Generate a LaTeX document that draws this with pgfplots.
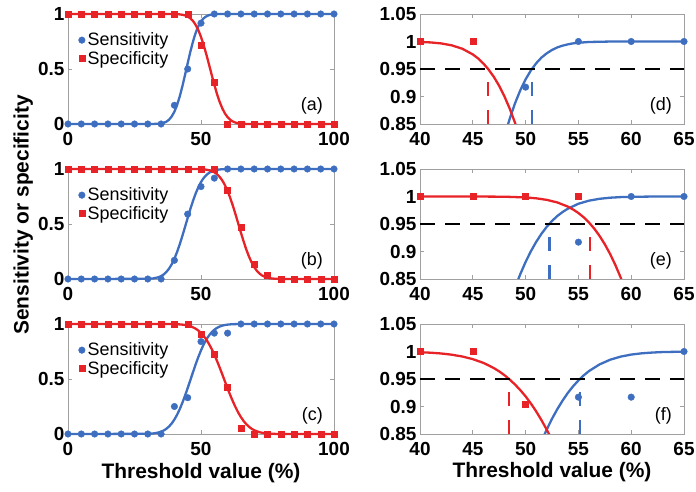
\documentclass[border=0pt]{standalone}
\usepackage{fontspec}
\setmainfont{Liberation Sans}
\usepackage{pgfplots}
\pgfplotsset{compat=1.18}
\usepackage{pgfplotstable}
\definecolor{sblue}{RGB}{61,110,191}
\definecolor{sred}{RGB}{232,35,40}
\definecolor{axgray}{RGB}{160,160,160}

\tikzset{plabel/.style={anchor=east, inner sep=0pt, font=\fontsize{18}{20}\selectfont}}

\pgfplotsset{
  panel/.style={
    scale only axis, height=110bp, anchor=south west,
    axis line style={axgray, line width=0.8bp},
    tick style={axgray, line width=0.8bp},
    major tick length=4bp,
    tick align=inside,
    tick label style={font=\fontsize{19}{20}\selectfont\bfseries, black},
    xticklabel style={yshift=-5bp},
    /pgf/number format/assume math mode=true,
    legend style={draw=none, fill=none, at={(rel axis cs:0.039,0.83)}, anchor=north west,
      inner sep=0pt, font=\fontsize{18}{20}\selectfont, row sep=4bp, column sep=2.5bp,
      nodes={inner sep=0pt}},
    legend cell align=left,
  },
  leftpanel/.style={panel, width=266bp, xmin=0, xmax=100, ymin=0, ymax=1,
    xtick={0,50,100}, xticklabels={0,50,100},
    ytick={0,0.5,1}, yticklabels={0,0.5,1}, clip=false},
  rightpanel/.style={panel, width=264bp, xmin=40, xmax=65, ymin=0.85, ymax=1.05,
    xtick={40,45,50,55,60,65}, xticklabels={40,45,50,55,60,65},
    ytick={0.85,0.9,0.95,1,1.05}, yticklabels={0.85,0.9,0.95,1,1.05}},
  sensmark/.style={only marks, mark=*, mark size=3.3bp, color=sblue, mark options={solid},
    legend image code/.code={\draw[##1] plot coordinates {(0bp,0bp)};}},
  specmark/.style={only marks, mark=square*, mark size=3bp, color=sred, mark options={solid},
    legend image code/.code={\draw[##1] plot coordinates {(0bp,0bp)};}},
  senscurve/.style={no markers, line width=2.3bp, color=sblue, forget plot},
  speccurve/.style={no markers, line width=2.3bp, color=sred, forget plot},
  hdash/.style={no markers, black, line width=2.5bp, dash pattern=on 15bp off 10bp, forget plot},
  vdashb/.style={no markers, sblue, line width=2.5bp, dash pattern=on 14bp off 14bp, forget plot},
  vdashr/.style={no markers, sred, line width=2.5bp, dash pattern=on 14bp off 14bp, forget plot},
}

% ---------- measured points ----------
\pgfplotstableread{
x sens spec
0 0 1
5 0 1
10 0 1
15 0 1
20 0 1
25 0 1
30 0 1
35 0 1
40 0.17 1
45 0.5 1
50 0.917 0.72
55 1 0.38
60 1 0
65 1 0
70 1 0
75 1 0
80 1 0
85 1 0
90 1 0
95 1 0
100 1 0
}\ptsA
\pgfplotstableread{
x sens spec
0 0 1
5 0 1
10 0 1
15 0 1
20 0 1
25 0 1
30 0 1
35 0 1
40 0.17 1
45 0.59 1
50 0.84 1
55 0.917 1
60 1 0.81
65 1 0.47
70 1 0.13
75 1 0.035
80 1 0
85 1 0
90 1 0
95 1 0
100 1 0
}\ptsB
\pgfplotstableread{
x sens spec
0 0 1
5 0 1
10 0 1
15 0 1
20 0 1
25 0 1
30 0 1
35 0 1
40 0.25 1
45 0.33 1
50 0.84 0.905
55 0.917 0.73
60 0.917 0.43
65 1 0.05
70 1 0
75 1 0
80 1 0
85 1 0
90 1 0
95 1 0
100 1 0
}\ptsC

% ---------- fitted curves ----------
\pgfplotstableread{
x y
0 0
30 0
32 0.0004
34 0.0023
35 0.0051
36 0.0107
37 0.0212
38 0.0396
39 0.0688
40 0.1122
41 0.1724
42 0.2498
43 0.3428
44 0.4464
45 0.5536
46 0.6572
47 0.7502
47.5 0.7912
48 0.8276
48.5 0.8599
49 0.8878
49.5 0.9114
50 0.9312
50.5 0.9474
51 0.9604
51.5 0.9707
52 0.9785
52.5 0.9846
53 0.9892
53.5 0.9924
54 0.9948
54.5 0.9966
55 0.9977
56 0.9991
58 0.9999
60 1
100 1
}\curveAsens
\pgfplotstableread{
x y
0 1
38 0.9999
40 0.9992
41 0.9983
42 0.9965
43 0.9930
44 0.9869
45 0.9765
45.5 0.9692
46 0.9600
46.5 0.9488
47 0.9354
47.5 0.9192
48 0.8999
48.5 0.8777
49 0.8521
49.5 0.8233
50 0.7914
51 0.7175
52 0.6333
53 0.5422
54 0.4487
55 0.3577
56 0.2743
57 0.2022
58 0.1424
59 0.0958
60 0.0619
61 0.0380
62 0.0222
63 0.0123
64 0.0065
65 0.0033
67 0.0007
70 0
100 0
}\curveAspec
\pgfplotstableread{
x y
0 0
30 0.0015
32 0.0052
34 0.0159
35 0.0265
36 0.0420
37 0.0642
38 0.0946
39 0.1345
40 0.1847
41 0.2452
42 0.3150
43 0.3921
44 0.4733
45 0.5561
46 0.6363
47 0.7110
48 0.7776
49 0.8344
49.5 0.8590
50 0.8810
50.5 0.9005
51 0.9174
51.5 0.9322
52 0.9448
52.5 0.9555
53 0.9645
53.5 0.9718
54 0.9778
55 0.9868
56 0.9924
57 0.9958
58 0.9978
59 0.9989
60 0.9994
62 0.9999
65 1
100 1
}\curveBsens
\pgfplotstableread{
x y
0 1
45 1
48 0.9996
50 0.9983
51 0.9967
52 0.9939
53 0.9892
54 0.9816
54.5 0.9763
55 0.9699
55.5 0.9622
56 0.9527
56.5 0.9416
57 0.9284
57.5 0.9131
58 0.8955
58.5 0.8754
59 0.8528
59.5 0.8276
60 0.7998
61 0.7367
62 0.6648
63 0.5862
64 0.5040
65 0.4215
66 0.3428
67 0.2701
68 0.2060
69 0.1520
70 0.1083
71 0.0745
72 0.0494
73 0.0315
74 0.0193
75 0.0114
76 0.0065
78 0.0019
80 0.0005
85 0
100 0
}\curveBspec
\pgfplotstableread{
x y
0 0
30 0.0016
32 0.0049
34 0.0133
35 0.0209
36 0.0322
37 0.0478
38 0.0688
39 0.0963
40 0.1314
41 0.1744
42 0.2254
43 0.2839
44 0.3487
45 0.4180
46 0.4904
47 0.5632
48 0.6338
49 0.7001
50 0.7601
50.5 0.7878
51 0.8131
51.5 0.8367
52 0.8581
52.5 0.8777
53 0.8951
53.5 0.9107
54 0.9247
54.5 0.9368
55 0.9474
55.5 0.9565
56 0.9644
57 0.9765
58 0.9850
59 0.9907
60 0.9944
61 0.9967
62 0.9981
63 0.9990
65 0.9997
67 1
100 1
}\curveCsens
\pgfplotstableread{
x y
0 1
35 0.9999
38 0.9996
40 0.9987
41 0.9978
42 0.9964
43 0.9942
44 0.9909
45 0.9861
46 0.9793
46.5 0.9747
47 0.9697
47.5 0.9638
48 0.9569
48.5 0.9489
49 0.9399
49.5 0.9297
50 0.9184
50.5 0.9054
51 0.8911
51.5 0.8752
52 0.8579
52.5 0.8393
53 0.8187
54 0.7734
55 0.7219
56 0.6655
57 0.6052
58 0.5422
59 0.4781
60 0.4145
61 0.3531
62 0.2955
63 0.2423
64 0.1950
65 0.1538
66 0.1188
67 0.0899
68 0.0663
69 0.0480
70 0.0340
72 0.0159
74 0.0068
76 0.0026
78 0.0009
80 0.0003
85 0
100 0
}\curveCspec

\begin{document}
\begin{tikzpicture}
\useasboundingbox (0,0) rectangle (696bp,492bp);

% ---------------- (a) ----------------
\begin{axis}[leftpanel, at={(68bp,368bp)}]
\addplot[senscurve] table {\curveAsens};
\addplot[speccurve] table {\curveAspec};
\addplot[sensmark] table[x=x,y=sens] {\ptsA};
\addlegendentry{Sensitivity}
\addplot[specmark] table[x=x,y=spec] {\ptsA};
\addlegendentry{Specificity}
\node[plabel] at (rel axis cs:1,0) [xshift=-11bp, yshift=18bp] {(a)};
\end{axis}

% ---------------- (b) ----------------
\begin{axis}[leftpanel, at={(68bp,213bp)}]
\addplot[senscurve] table {\curveBsens};
\addplot[speccurve] table {\curveBspec};
\addplot[sensmark] table[x=x,y=sens] {\ptsB};
\addlegendentry{Sensitivity}
\addplot[specmark] table[x=x,y=spec] {\ptsB};
\addlegendentry{Specificity}
\node[plabel] at (rel axis cs:1,0) [xshift=-11bp, yshift=18bp] {(b)};
\end{axis}

% ---------------- (c) ----------------
\begin{axis}[leftpanel, at={(68bp,58bp)},
  xlabel={Threshold value (\%)},
  xlabel style={font=\fontsize{21}{24}\selectfont\bfseries, at={(axis description cs:0.5,0)}, anchor=base, yshift=-44bp}]
\addplot[senscurve] table {\curveCsens};
\addplot[speccurve] table {\curveCspec};
\addplot[sensmark] table[x=x,y=sens] {\ptsC};
\addlegendentry{Sensitivity}
\addplot[specmark] table[x=x,y=spec] {\ptsC};
\addlegendentry{Specificity}
\node[plabel] at (rel axis cs:1,0) [xshift=-11bp, yshift=18bp] {(c)};
\end{axis}

% ---------------- (d) ----------------
\begin{axis}[rightpanel, at={(420bp,368bp)}]
\addplot[senscurve] table {\curveAsens};
\addplot[speccurve] table {\curveAspec};
\addplot[hdash] coordinates {(40,0.95) (65,0.95)};
\addplot[vdashr] coordinates {(46.45,0.85) (46.45,0.95)};
\addplot[vdashb] coordinates {(50.6,0.85) (50.6,0.95)};
\addplot[sensmark, forget plot] coordinates {(50,0.917) (55,1) (60,1) (65,1)};
\addplot[specmark, forget plot] coordinates {(40,1) (45,1)};
\node[plabel] at (rel axis cs:1,0) [xshift=-12bp, yshift=18bp] {(d)};
\end{axis}

% ---------------- (e) ----------------
\begin{axis}[rightpanel, at={(420bp,213bp)}]
\addplot[senscurve] table {\curveBsens};
\addplot[speccurve] table {\curveBspec};
\addplot[hdash] coordinates {(40,0.95) (65,0.95)};
\addplot[vdashb] coordinates {(52.24,0.85) (52.24,0.95)};
\addplot[vdashr] coordinates {(56.12,0.85) (56.12,0.95)};
\addplot[sensmark, forget plot] coordinates {(55,0.917) (60,1) (65,1)};
\addplot[specmark, forget plot] coordinates {(40,1) (45,1) (50,1) (55,1)};
\node[plabel] at (rel axis cs:1,0) [xshift=-12bp, yshift=18bp] {(e)};
\end{axis}

% ---------------- (f) ----------------
\begin{axis}[rightpanel, at={(420bp,58bp)},
  xlabel={Threshold value (\%)},
  xlabel style={font=\fontsize{21}{24}\selectfont\bfseries, at={(axis description cs:0.5,0)}, anchor=base, yshift=-44bp}]
\addplot[senscurve] table {\curveCsens};
\addplot[speccurve] table {\curveCspec};
\addplot[hdash] coordinates {(40,0.95) (65,0.95)};
\addplot[vdashr] coordinates {(48.43,0.85) (48.43,0.95)};
\addplot[vdashb] coordinates {(55.14,0.85) (55.14,0.95)};
\addplot[sensmark, forget plot] coordinates {(55,0.917) (60,0.917) (65,1)};
\addplot[specmark, forget plot] coordinates {(40,1) (45,1) (50,0.905)};
\node[plabel] at (rel axis cs:1,0) [xshift=-12bp, yshift=18bp] {(f)};
\end{axis}

% shared y label
\node[rotate=90, anchor=base, font=\fontsize{21}{24}\selectfont\bfseries] at (28.5bp,277bp) {Sensitivity or specificity};
\end{tikzpicture}
\end{document}
